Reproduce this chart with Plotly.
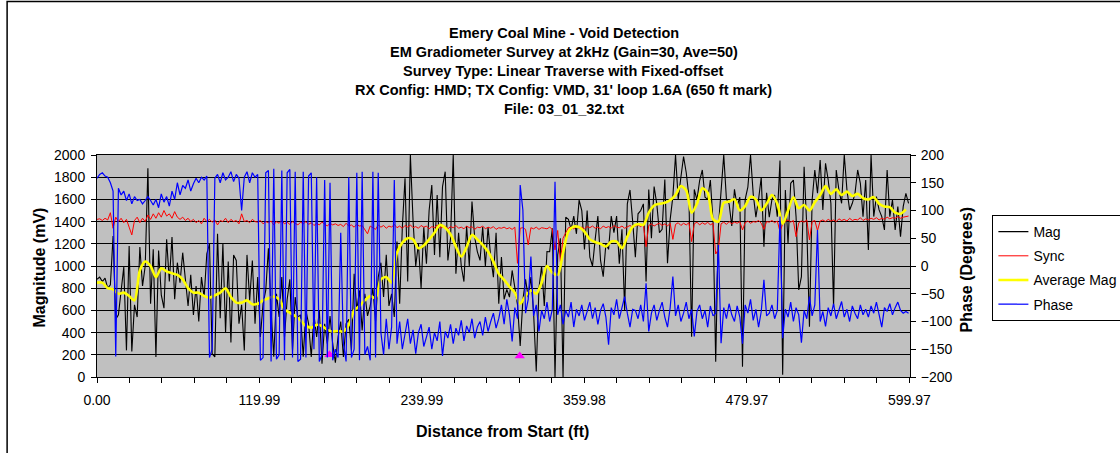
import numpy as np
import plotly.graph_objects as go

# ---------------- data ----------------
STEP_FT = 1.978  # spacing of the digitised samples along the traverse (ft)

mag = [880, 900, 860, 890, 800, 830, 1270, 520, 560, 760, 990, 240, 1180, 230, 650, 540, 1170, 820, 1000, 1880,
       660, 1150, 180, 1140, 740, 620, 1240, 860, 1260, 700, 1030, 850, 1120, 880, 640, 920, 560, 820, 500, 900,
       720, 1110, 1200, 210, 180, 1290, 530, 1200, 400, 1040, 310, 1100,
       1050, 480, 650, 240, 1100, 690, 1050, 480, 900, 360, 660, 780, 1160, 600, 183, 750, 540, 900, 360, 700,
       880, 240, 720, 540, 560, 183, 600, 480, 180, 560, 360, 600, 120, 480, 300, 550, 300, 130, 360, 500,
       180, 480, 520, 240, 930, 600, 780, 420, 750, 550,
       640, 800, 500, 900, 1030, 720, 1100, 640, 750, 540, 1220, 660, 1350, 1790, 860, 2000, 1410, 1000, 1200, 800,
       1350, 1020, 1500, 1730, 1100, 1640, 1080, 1715, 1850, 1050, 1250, 2000, 930, 1300, 1000, 860, 1360, 1000, 1580, 1260,
       1130, 1050, 1350, 1000, 1350, 1080, 900, 1300, 660, 1080, 700,
       790, 720, 960, 780, 650, 280, 690, 880, 720, 900, 580, 50, 800, 1000, 640, 1130, 1129, 1340, 0, 1100,
       1250, 0, 1440, 1420, 1330, 1450, 1290, 1594, 1500, 1150, 1500, 1080, 1000, 1240, 1450, 1050, 904, 1200, 1150, 1450,
       1300, 1450, 1020, 1330, 604, 1560, 1685, 1400, 1080, 1470,
       1500, 1560, 860, 1690, 1250, 1715, 1560, 1300, 1330, 1780, 1024, 1420, 1625, 2000, 1600, 1800, 1985, 1840, 1625, 363,
       1690, 1595, 1770, 1865, 1620, 1600, 1775, 1400, 138, 1350, 1690, 2000, 1600, 1560, 1360, 1690, 1540, 1620, 93, 1600,
       1710, 2000, 1650, 1440, 1600, 1800, 1174, 1660, 1440, 1600,
       1640, 1445, 1950, 20, 1685, 1204, 1745, 1775, 1445, 784, 904, 1895, 1355, 453, 1595, 1865, 1655, 1955, 1505, 1925,
       1775, 1565, 634, 1865, 1685, 1565, 2000, 1685, 1505, 1565, 1655, 1865, 1745, 1445, 1775, 1144, 2000, 1445, 1625, 1505,
       1445, 1325, 1865, 1445, 1595, 1325, 1535, 1265, 1535, 1655, 1565]

sync = [1420, 1425, 1410, 1430, 1415, 1480, 1340, 1440, 1400, 1430, 1390, 1420, 1350, 1280, 1410, 1440, 1390, 1430, 1400, 1460,
        1420, 1470, 1430, 1480, 1440, 1500, 1450, 1470, 1430, 1490, 1440,
        1420, 1440, 1410, 1430, 1400, 1420, 1390, 1410, 1380, 1430, 1400, 1420, 1395, 1415, 1370, 1410, 1400, 1430, 1390, 1420,
        1400, 1410, 1380, 1470, 1400, 1410, 1390, 1420, 1400, 1395,
        1410, 1380, 1400, 1390, 1405, 1370, 1400, 1385, 1410, 1380, 1395, 1375, 1400, 1385, 1370, 1395, 1380, 1400, 1375, 1390,
        1365, 1385, 1370, 1395, 1380, 1360, 1385, 1370, 1380, 1365, 1375, 1355, 1385, 1360, 1370, 1350, 1375, 1360, 1365, 1330,
        1290, 1360, 1345, 1330, 1370, 1350, 1365, 1340, 1360, 1350, 1375, 1345, 1360, 1340, 1365, 1350, 1370, 1345, 1355, 1340,
        1365, 1350, 1360, 1335, 1355, 1345, 1370, 1340, 1350, 1360, 1335, 1355, 1345, 1365, 1340, 1350, 1335, 1360, 1345, 1355,
        1330, 1350, 1345, 1360, 1335, 1350, 1340, 1355, 1330, 1345,
        1340, 1350, 1335, 1345, 1330, 1350, 1024, 1340, 1345, 1330, 1190, 1345, 1335, 1350, 1330, 1345, 1340, 1335, 1350, 1330,
        1145, 1320, 1039, 1250, 1300, 1345, 1350, 1335, 1355, 1340, 1350, 1335, 1355, 1345, 1360, 1340, 1350, 1335, 1360, 1345,
        1355, 1340, 1365, 1350, 1345, 1360, 1340, 1355, 1365, 1350,
        1360, 1370, 1355, 1375, 1174, 1365, 1380, 1360, 1375, 1385, 1365, 1380, 1360, 1385, 1240, 1375, 1390, 1365, 1385, 1370,
        1390, 1220, 1380, 1395, 1370, 1390, 1375, 1395, 1370, 1385, 1108, 1150, 1380, 1395, 1375, 1400, 1380, 1395, 1385, 1400,
        1325, 1390, 1405, 1385, 1400, 1395, 1410, 1385, 1330, 1400,
        1395, 1410, 1390, 1405, 1310, 1380, 1400, 1415, 1395, 1410, 1264, 1390, 1405, 1395, 1415, 1235, 1400, 1410, 1320, 1405,
        1415, 1400, 1420, 1405, 1415, 1400, 1425, 1410, 1420, 1405, 1430, 1410, 1420, 1415, 1435, 1410, 1425, 1415, 1430, 1420,
        1435, 1415, 1430, 1420, 1440, 1425, 1435, 1430, 1445, 1430, 1440, 1445, 1450]

phase = [158, 165, 168, 162, 160, 150, 135, -163, 140, 128, 135, 118, 130, 112, 125, 118, 120, 112, 118, 125,
         118, 110, 120, 105, 130, 115, 125, 108, 135, 120, 150, 128, 145, 140, 155, 135, 148, 158, 150, 160,
         155, 162, -165, -150, 158, 165, 150, 168, 155, 160, 170, 152, 165, 158, 100, 160, 170, 150, 168, 160,
         165, -170, -165, 168, 172, -172, 175, -168, -160, 172, -170, 168, 174, -165, 170, -172, -168, 170, -165, 162,
         168, -150, 160, -172, -160, 155, -165, 150, -170, -150, -165, 60, -140, -172, 160, -165, -150, 168, -170, 170,
         -160,
         -145, -170, 170, -165, 168, -120, -160, -95, -150, -110, 155, -140, -100, -150, -125, -95, -140, -115, -158, -120,
         -105, -145, -128, -110, -150, -120, -135, -100, -162, -118, -130, -105, -140, -112, -125, -98, -135, -108, -120, -95,
         -130, -110, -100, -125, -92, -118, -100, -85, -112, -95,
         -70, -105, -60, -88, -136, -75, -95, 146, 101, -85, -60, 17, -90, -70, -118, -80, -95, -65, -100, -78,
         152, -88, -70, -105, -80, -92, -65, -110, -78, -90, -70, -98, -82, -65, -95, -75, -105, -80, -68, -92,
         -142, -75, -88, -60, -95, -72, -55, -85, -110, -78,
         -80, -95, -70, -100, -31, -118, -85, -70, -98, -80, -65, -92, -110, -75, -19, -90, -70, -100, -85, -65,
         -95, -78, -127, -82, -70, -95, -80, -110, -72, -90, -85, 38, -139, -75, -95, -68, -88, -100, -72, -92,
         -140, -70, -85, -60, -98, -78, -110, -82, -25, -90,
         -85, -70, -95, -80, 89, -130, -78, -92, -65, -100, -75, -88, -138, -80, -95, -55, -90, -70, 65, -100,
         -82, -109, -75, -90, -68, -95, -80, -64, -92, -78, -100, -72, -85, -95, -70, -88, -78, -92, -72, -85,
         -65, -90, -110, -75, -82, -68, -88, -75, -65, -80, -85, -82, -85]

avg_mag = [850, 850, 800, 790, 750, 760, 730, 690, 960, 1040, 1000, 900, 980, 950, 935, 920, 880, 800, 760, 760,
           730, 715, 735, 760, 800, 720, 670, 670, 690, 655, 660, 690, 710, 725, 700, 610, 580, 550, 510, 460,
           445, 470, 460, 425, 410, 415, 410, 470, 600, 640, 690, 730, 710, 880, 900, 850, 1120, 1210, 1250, 1240,
           1160, 1185, 1240, 1300, 1370, 1345, 1285, 1175, 1085, 1170, 1280, 1240, 1190, 1130, 1040, 930, 875, 815, 760, 660,
           730, 780, 750, 850, 1000, 940, 920, 1120, 1310, 1355, 1350, 1310, 1240, 1215, 1200, 1175, 1220, 1220, 1160, 1264,
           1354, 1378, 1370, 1480, 1545, 1560, 1570, 1594, 1640, 1720, 1680, 1480, 1560, 1700, 1660, 1420, 1400, 1570, 1580, 1600,
           1500, 1540, 1624, 1600, 1500, 1560, 1640, 1560, 1380, 1500, 1620, 1520, 1550, 1500, 1575, 1639, 1720, 1650, 1690, 1640,
           1670, 1630, 1650, 1610, 1600, 1620, 1560, 1535, 1530, 1480, 1470, 1510]

marker_dist = [171.7, 312.2]
marker_mag = [200, 190]

x_label_values = [0.0, 119.99, 239.99, 359.98, 479.97, 599.97]
x_label_text = ["0.00", "119.99", "239.99", "359.98", "479.97", "599.97"]

title_lines = ["Emery Coal Mine - Void Detection",
               "EM Gradiometer Survey at 2kHz (Gain=30, Ave=50)",
               "Survey Type: Linear Traverse with Fixed-offset",
               "RX Config: HMD; TX Config: VMD, 31' loop 1.6A (650 ft mark)",
               "File: 03_01_32.txt"]

assert len(mag) == len(sync) == len(phase), (len(mag), len(sync), len(phase))

dist = np.arange(len(mag)) * STEP_FT
avg_dist = np.arange(len(avg_mag)) * STEP_FT * 2

# ---------------- layout geometry ----------------
W, H = 1120, 453
L, R, T, B = 96.5, 209.5, 155, 76
PW, PH = W - L - R, H - T - B
FONT = "Arial, 'Liberation Sans', sans-serif"


def px(x):
    return (x - L) / PW


def py(y):
    return (H - B - y) / PH


# x ticks: a tick every fifth of a label interval, labels on every fifth tick
minor = x_label_values[1] / 5
tickvals, ticktext = [], []
for k in range(26):
    tickvals.append(k * minor)
    ticktext.append(x_label_text[k // 5] if k % 5 == 0 else "")

fig = go.Figure()
fig.add_trace(go.Scatter(x=dist, y=mag, name="Mag", mode="lines",
                         line=dict(color="#000000", width=1.1), legendgroup="a"))
fig.add_trace(go.Scatter(x=dist, y=sync, name="Sync", mode="lines",
                         line=dict(color="#FF0000", width=1), legendgroup="b"))
fig.add_trace(go.Scatter(x=avg_dist, y=avg_mag, name="Average Mag", mode="lines",
                         line=dict(color="#FFFF00", width=2.6, shape="spline", smoothing=0.8), legendgroup="c"))
fig.add_trace(go.Scatter(x=marker_dist, y=marker_mag, mode="markers", showlegend=False,
                         marker=dict(symbol="triangle-up", size=9, color="#FF00FF")))
fig.add_trace(go.Scatter(x=dist, y=phase, name="Phase", mode="lines", yaxis="y2",
                         line=dict(color="#0000FF", width=1.2), legendgroup="d"))

annotations = []
for i, t in enumerate(title_lines):
    annotations.append(dict(text="<b>%s</b>" % t, x=px(564), y=py(33 + 19 * i), xref="paper", yref="paper",
                            showarrow=False, xanchor="center", yanchor="middle",
                            font=dict(family=FONT, size=14.5, color="black")))
annotations.append(dict(text="<b>Magnitude (mV)</b>", x=px(38), y=py(268), xref="paper", yref="paper",
                        showarrow=False, textangle=-90, xanchor="center", yanchor="middle",
                        font=dict(family=FONT, size=16, color="black")))
annotations.append(dict(text="<b>Phase (Degrees)</b>", x=px(967), y=py(270), xref="paper", yref="paper",
                        showarrow=False, textangle=-90, xanchor="center", yanchor="middle",
                        font=dict(family=FONT, size=16, color="black")))
annotations.append(dict(text="<b>Distance from Start (ft)</b>", x=px(502), y=py(431), xref="paper", yref="paper",
                        showarrow=False, xanchor="center", yanchor="middle",
                        font=dict(family=FONT, size=16, color="black")))

fig.update_layout(
    width=W, height=H, autosize=False,
    margin=dict(l=L, r=R, t=T, b=B, pad=0, autoexpand=False),
    paper_bgcolor="white", plot_bgcolor="#C0C0C0",
    font=dict(family=FONT, size=14, color="black"),
    xaxis=dict(range=[0, 600.4], tickmode="array", tickvals=tickvals, ticktext=ticktext,
               ticks="outside", ticklen=5, tickcolor="black", tickwidth=1, ticklabelstandoff=5,
               showline=True, linecolor="black", linewidth=1, mirror=True,
               showgrid=False, zeroline=False, tickfont=dict(size=14)),
    yaxis=dict(range=[0, 2000], tick0=0, dtick=200, ticks="outside", ticklen=5, tickcolor="black",
               ticklabelstandoff=3,
               showline=True, linecolor="black", linewidth=1, mirror=True,
               showgrid=True, gridcolor="black", gridwidth=1, zeroline=False, tickfont=dict(size=14)),
    yaxis2=dict(range=[-200, 200], tick0=-200, dtick=50, overlaying="y", side="right",
                ticks="outside", ticklen=5, tickcolor="black", ticklabelstandoff=2,
                showline=True, linecolor="black", linewidth=1,
                showgrid=False, zeroline=False, tickfont=dict(size=14)),
    legend=dict(x=px(993), y=py(215), xanchor="left", yanchor="top",
                bgcolor="white", bordercolor="black", borderwidth=1,
                font=dict(family=FONT, size=14, color="black"),
                traceorder="grouped", tracegroupgap=3),
    annotations=annotations,
    shapes=[dict(type="rect", xref="paper", yref="paper",
                 x0=px(6.5), x1=px(1135), y0=py(470), y1=py(1.5),
                 line=dict(color="black", width=1.5), fillcolor="rgba(0,0,0,0)", layer="above")],
    showlegend=True,
)

fig.write_html("out.html")
